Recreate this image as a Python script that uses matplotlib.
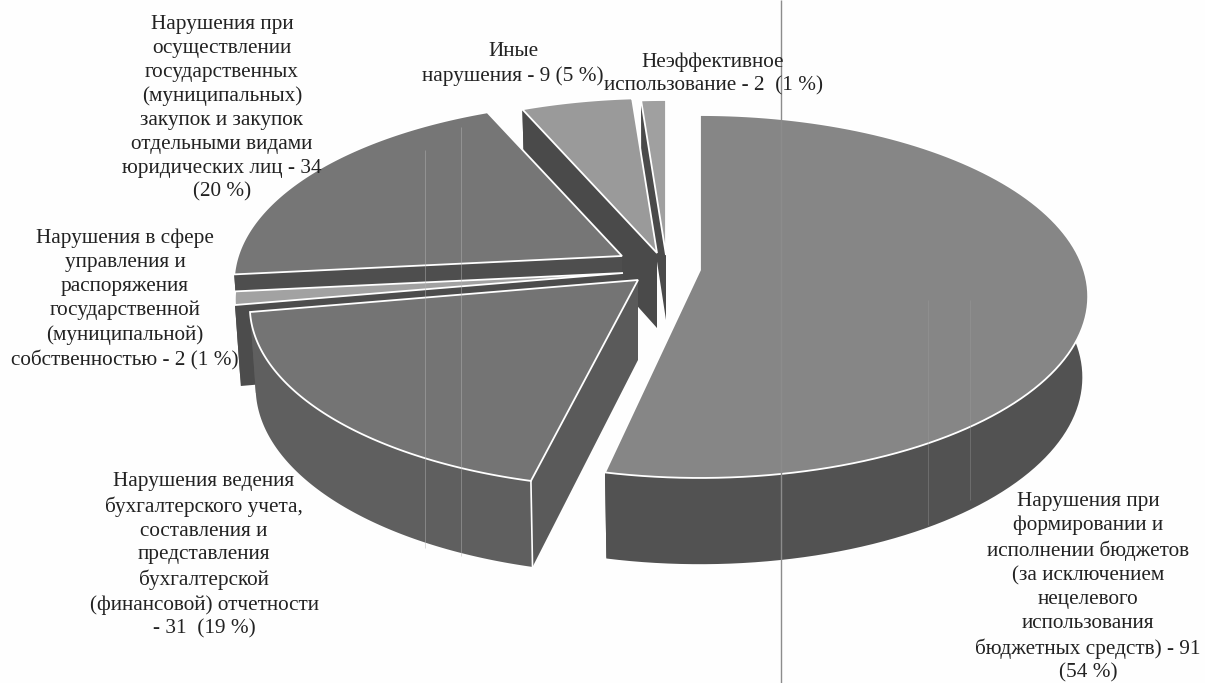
import matplotlib
matplotlib.use('Agg')
import matplotlib.pyplot as plt
import numpy as np
from matplotlib.patches import Polygon

plt.rcParams['font.family'] = ['Liberation Serif', 'DejaVu Serif']

# clockwise from 12 o'clock
counts = [91, 31, 2, 34, 9, 2]
labels = [
    'Нарушения при\nформировании и\nисполнении бюджетов\n(за исключением\nнецелевого\nиспользования\nбюджетных средств) - 91\n(54 %)',
    'Нарушения ведения\nбухгалтерского учета,\nсоставления и\nпредставления\nбухгалтерской\n(финансовой) отчетности\n- 31  (19 %)',
    'Нарушения в сфере\nуправления и\nраспоряжения\nгосударственной\n(муниципальной)\nсобственностью - 2 (1 %)',
    'Нарушения при\nосуществлении\nгосударственных\n(муниципальных)\nзакупок и закупок\nотдельными видами\nюридических лиц - 34\n(20 %)',
    'Иные\nнарушения - 9 (5 %)',
    'Неэффективное\nиспользование - 2  (1 %)',
]
label_x = [1088, 204, 125, 222, 513, 713]
label_top = [492, 472, 229, 15, 42, 52]

# pixel shift of each slice apex, explode
shift_x = [0, -62, -77, -78, -43, -34]
shift_y = [0, 10, 3, -14, -17, -15]
trim_end = [1.6, 0, 0, 0, 0, 0]  # main slice edge sits a bit short in the drawing
depths = [80, 80, 80, 80, 75, 65]
top_cols = ['#868686', '#747474', '#a2a2a2', '#767676', '#9a9a9a', '#a0a0a0']
wall_cols = ['#525252', '#5f5f5f', '#4c4c4c', '#4e4e4e', '#4a4a4a', '#4a4a4a']
side_cols = ['#505050', '#5a5a5a', '#4c4c4c', '#4e4e4e', '#4a4a4a', '#4a4a4a']
draw_order = [5, 4, 3, 2, 1, 0]

cx, cy = 700, 270
rx, ry, k = 384, 177.6, 0.146


def rim(theta, sx=1.0, sy=1.0, dy=0.0):
    # perspective ellipse, theta in degrees clockwise from top
    t = np.radians(theta)
    u, v = np.sin(t), -np.cos(t)
    w = 1 / (1 - k * v)
    return rx * u * w * sx, ry * v * w * sy + dy


fig = plt.figure(figsize=(12.05, 6.83), dpi=100, facecolor='#fefefe')
ax = fig.add_axes([0, 0, 1, 1])
ax.set_xlim(0, 1205)
ax.set_ylim(683, 0)
ax.axis('off')

angles = np.cumsum([0] + counts) / sum(counts) * 360

for n, i in enumerate(draw_order):
    z = 2 + n
    th = np.linspace(angles[i], angles[i + 1] - trim_end[i], 120)
    ox, oy = cx + shift_x[i], cy + shift_y[i]
    d = depths[i]
    tx, ty = rim(th)
    bx, by = rim(th, 0.985, 1.03, d)

    # cut faces
    for end in (0, -1):
        pts = [(ox, oy), (ox + tx[end], oy + ty[end]),
               (ox + bx[end], oy + by[end]), (ox, oy + d)]
        ax.add_patch(Polygon(pts, closed=True, fc=side_cols[i], ec='none', zorder=z))
    # outer wall
    wall = np.column_stack([np.r_[tx, bx[::-1]] + ox, np.r_[ty, by[::-1]] + oy])
    ax.add_patch(Polygon(wall, closed=True, fc=wall_cols[i], ec='none', zorder=z))
    # top face
    face = np.column_stack([np.r_[ox, tx + ox], np.r_[oy, ty + oy]])
    ax.add_patch(Polygon(face, closed=True, fc=top_cols[i], ec='white', lw=1.3,
                         joinstyle='miter', zorder=z))
    if i == 1:
        ax.plot([ox + tx[0], ox + bx[0]], [oy + ty[0], oy + by[0]],
                color='white', lw=1.2, zorder=z)

# scanner streaks
ax.vlines(425, 150, 548, color='#b4b4b4', lw=0.6, alpha=0.55, zorder=10)
ax.vlines(461, 127, 556, color='#b4b4b4', lw=0.6, alpha=0.55, zorder=10)
ax.vlines([928, 970], 300, [525, 500], color='#a0a0a0', lw=0.6, alpha=0.4, zorder=10)
ax.vlines(781, 0, 683, color='#8c8c8c', lw=1.0, zorder=10)

for text, x, y in zip(labels, label_x, label_top):
    ax.text(x, y, text, ha='center', va='top', fontsize=15.3, color='#222222',
            linespacing=1.34, zorder=20)

fig.savefig('out.png', dpi=100, facecolor=fig.get_facecolor())
